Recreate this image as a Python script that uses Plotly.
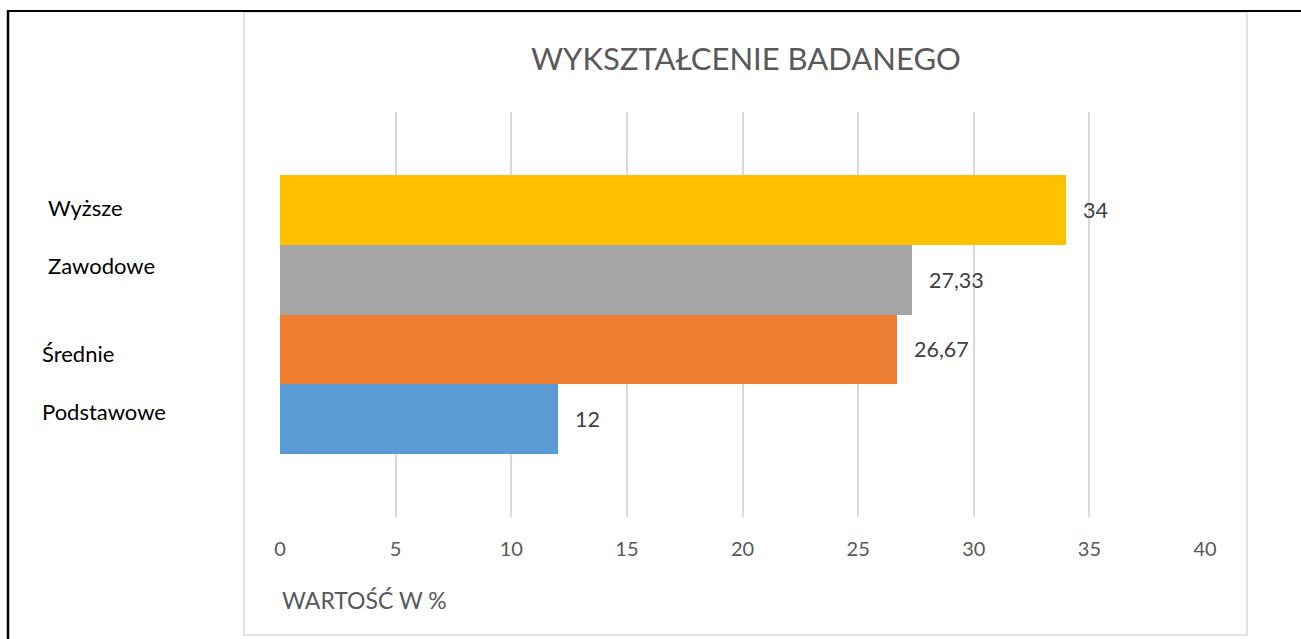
import plotly.graph_objects as go

categories = ["Podstawowe", "Średnie", "Zawodowe", "Wyższe"]
values = [12, 26.67, 27.33, 34]
value_labels = ["12", "26,67", "27,33", "34"]
colors = ["#5B9BD5", "#ED7D31", "#A5A5A5", "#FFC000"]
x_ticks = [0, 5, 10, 15, 20, 25, 30, 35, 40]
label_shift = [7, -4, 14, 3]
label_left = [40, 40, 46, 46]

W, H = 1301, 639
L, R, T, B = 280, 1205, 112, 517

def px(x):
    return (x - L) / (R - L)

def py(y):
    return (B - y) / (B - T)

FONT = "Lato"

fig = go.Figure()
fig.add_trace(go.Bar(
    y=categories, x=values, orientation="h",
    marker=dict(color=colors, line=dict(width=0)),
    hoverinfo="skip", showlegend=False,
))

annotations = []
for c, v, t in zip(categories, values, value_labels):
    annotations.append(dict(x=v, y=c, xref="x", yref="y", text=t, showarrow=False,
                            xanchor="left", yanchor="middle", xshift=15,
                            font=dict(family=FONT, size=21.5, color="#404040")))
for c, s, lx in zip(categories, label_shift, label_left):
    annotations.append(dict(x=px(lx), y=c, xref="paper", yref="y",
                            text=c, showarrow=False, xanchor="left", yanchor="middle", yshift=s,
                            font=dict(family=FONT, size=22, color="#000000")))
annotations.append(dict(x=0, y=py(600), xref="paper", yref="paper", text="WARTOŚĆ W %",
                        showarrow=False, xanchor="left", yanchor="middle",
                        font=dict(family=FONT, size=23, color="#595959")))
annotations.append(dict(x=px(746), y=py(58), xref="paper", yref="paper", text="WYKSZTAŁCENIE BADANEGO",
                        showarrow=False, xanchor="center", yanchor="middle",
                        font=dict(family=FONT, size=31, color="#595959")))

shapes = [
    dict(type="rect", xref="paper", yref="paper", x0=px(244), x1=px(1247), y0=py(635), y1=py(12),
         line=dict(color="#D9D9D9", width=1.5), layer="below"),
    dict(type="line", xref="paper", yref="paper", x0=px(8), x1=px(8), y0=py(10), y1=py(645),
         line=dict(color="#000000", width=2.5)),
    dict(type="line", xref="paper", yref="paper", x0=px(7), x1=px(1310), y0=py(11), y1=py(11),
         line=dict(color="#000000", width=2)),
]

fig.update_layout(
    width=W, height=H,
    margin=dict(l=L, r=W - R, t=T, b=H - B, pad=0),
    paper_bgcolor="white", plot_bgcolor="white",
    bargap=0,
    separators=", ",
    annotations=annotations,
    shapes=shapes,
    xaxis=dict(range=[0, 40], tickvals=x_ticks, showgrid=True, gridcolor="#D9D9D9", gridwidth=1.5,
               zeroline=False, showline=False, ticks="", ticklabelstandoff=18,
               tickfont=dict(family=FONT, size=20, color="#595959")),
    yaxis=dict(range=[-1.41, 4.41], showticklabels=False, showgrid=False, zeroline=False,
               showline=False, ticks=""),
)

fig.write_html("out.html", config={"displayModeBar": False},
               post_script="document.body.style.margin='0';document.body.style.overflow='hidden';")
